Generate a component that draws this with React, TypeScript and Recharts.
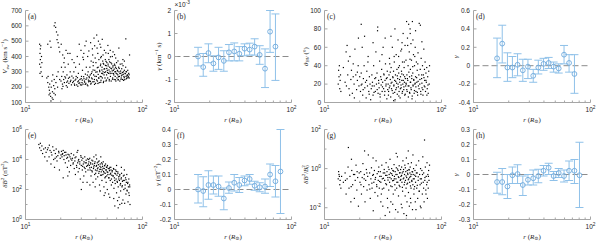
import type { ReactNode } from 'react';
import { ComposedChart, ErrorBar, ReferenceLine, Scatter, XAxis, YAxis } from 'recharts';

const FRAME = '#a6a6a6';
const TXT = '#262626';
const BAR = '#8fc1e9';
const RING = '#6ea9dc';
const ZERO = '#8c8c8c';
const SANS = '"Liberation Sans", Arial, sans-serif';
const SERIF = '"Liberation Serif", "DejaVu Serif", serif';

// radial distance bins (R_sun) used by the binned gamma panels
const rBins = [15.9, 17.6, 19.5, 21.5, 23.8, 26.4, 29.2, 32.4, 35.8, 39.7, 43.9, 48.4, 53.5, 59.4, 65.6, 72.9, 80.5];

// (b) gamma of V_sw, units of 1e-3 km^-1 s
const gammaV = [0.0, -0.46, 0.15, -0.3, -0.04, -0.19, 0.18, 0.22, 0.12, 0.34, 0.3, 0.43, 0.07, -0.53, 1.08, 0.43];
const gammaVLo = [-0.41, -0.86, -0.27, -0.64, -0.56, -0.64, -0.19, -0.19, -0.19, 0.03, 0.06, 0.06, -0.34, -1.35, 0.18, -1.04];
const gammaVHi = [0.4, 0.13, 0.55, 0.03, 0.4, 0.25, 0.52, 0.59, 0.43, 0.55, 0.58, 0.77, 0.47, 0.33, 2.0, 1.85];

// (d) gamma of theta_BV
const gammaTh = [0.08, 0.24, -0.02, -0.02, 0.01, -0.05, -0.01, -0.11, -0.02, 0.02, 0.03, -0.01, -0.03, 0.12, 0.03, -0.09];
const gammaThLo = [-0.13, 0.03, -0.17, -0.13, -0.11, -0.17, -0.14, -0.18, -0.09, -0.05, -0.03, -0.07, -0.08, 0.02, -0.07, -0.3];
const gammaThHi = [0.3, 0.44, 0.14, 0.1, 0.13, 0.07, 0.07, -0.04, 0.06, 0.08, 0.09, 0.04, 0.02, 0.22, 0.12, 0.12];

// (f) gamma of dB^2, nT^-2
const gammaB = [0.0, -0.01, 0.03, 0.03, 0.02, -0.06, 0.01, 0.045, 0.03, 0.06, 0.07, 0.025, 0.015, 0.02, 0.1, 0.055, 0.12];
const gammaBLo = [-0.09, -0.115, -0.065, -0.03, -0.045, -0.135, -0.025, -0.01, -0.02, 0.025, 0.035, -0.005, -0.015, -0.025, 0.02, -0.05, -0.16];
const gammaBHi = [0.1, 0.085, 0.125, 0.09, 0.09, 0.01, 0.05, 0.1, 0.08, 0.09, 0.1, 0.055, 0.045, 0.07, 0.17, 0.16, 0.4];

// (h) gamma of dB^2/B0^2
const gammaN = [-0.05, -0.05, -0.08, -0.005, 0.003, -0.07, -0.035, -0.025, -0.01, 0.025, 0.045, -0.01, 0.01, -0.01, 0.025, 0.025, -0.005];
const gammaNLo = [-0.125, -0.135, -0.16, -0.06, -0.06, -0.14, -0.07, -0.07, -0.055, -0.01, 0.0, -0.04, -0.02, -0.05, -0.04, -0.06, -0.22];
const gammaNHi = [0.015, 0.04, 0.0, 0.05, 0.065, -0.01, 0.0, 0.03, 0.035, 0.06, 0.075, 0.02, 0.04, 0.03, 0.09, 0.1, 0.215];

// (a) V_sw (km/s) vs r
const vswPts = [
  [13.2, 480], [13.3, 420], [13.4, 380], [13.2, 350], [13.5, 330], [13.6, 300], [13.4, 450], [13.7, 400], [13.3, 290], [13.8, 360], [13.5, 470], [13.9, 270],
  [15.2, 260], [15.5, 230], [15.8, 200], [16.0, 180], [16.2, 160], [16.4, 140], [16.6, 200], [16.8, 240], [17.0, 170], [17.2, 120], [16.5, 110], [15.9, 150],
  [17.4, 210], [17.6, 250], [17.8, 190], [16.1, 220], [15.6, 270], [17.1, 280], [16.9, 130], [17.5, 160], [18.0, 150], [18.2, 230], [18.5, 270], [18.8, 200],
  [17.6, 600], [17.9, 620], [18.1, 590], [18.4, 560], [18.6, 510], [19.0, 490], [19.3, 460], [19.6, 430], [18.9, 540], [20.2, 480], [15.5, 480], [16.2, 500],
  [16.5, 460], [20.8, 410], [21.5, 390], [22.2, 440], [23.0, 420],
  [20.1, 240], [20.4, 270], [20.7, 220], [21.0, 300], [21.2, 250], [21.5, 230], [21.8, 330], [22.0, 260], [22.3, 210], [22.6, 280], [22.9, 240], [23.2, 350],
  [23.5, 225], [23.8, 265], [24.1, 300], [24.4, 245], [24.7, 215], [25.0, 380], [20.5, 190], [21.3, 360], [22.8, 200], [24.0, 420],
  [25.3, 230], [25.6, 260], [25.9, 300], [26.2, 220], [26.5, 245], [26.8, 330], [27.1, 270], [27.4, 215], [27.7, 400], [28.0, 235], [28.3, 290], [28.6, 225],
  [28.9, 350], [29.2, 250], [29.5, 215], [29.8, 440], [30.1, 270], [30.4, 230], [30.7, 310], [31.0, 220], [31.3, 380], [31.6, 255], [31.9, 240], [32.2, 470],
  [32.5, 285], [32.8, 225], [33.1, 330], [33.4, 260], [33.7, 215], [34.0, 400], [34.3, 300], [34.6, 235], [34.9, 270], [26.0, 360], [28.8, 480], [31.5, 420], [33.0, 500],
  [35.2, 240], [35.5, 330], [35.8, 280], [36.1, 220], [36.4, 370], [36.7, 260], [37.0, 300], [37.3, 450], [37.6, 235], [37.9, 340], [38.2, 280], [38.5, 520],
  [38.8, 250], [39.1, 310], [39.4, 390], [39.7, 225], [40.0, 360], [40.3, 270], [40.6, 540], [40.9, 300], [41.2, 240], [41.5, 420], [41.8, 330], [42.1, 260],
  [42.4, 380], [42.7, 230], [43.0, 310], [43.3, 480], [43.6, 270], [43.9, 350], [44.2, 245], [44.5, 400], [44.8, 290], [45.1, 330], [45.4, 260], [45.7, 370],
  [46.0, 300], [46.3, 230], [46.6, 350], [46.9, 280], [47.2, 440], [47.5, 320], [47.8, 260], [48.1, 380], [48.4, 300], [48.7, 240], [49.0, 340], [49.3, 280],
  [49.6, 360], [36.0, 490], [39.0, 470], [42.0, 500], [44.0, 460], [37.5, 410], [46.0, 410],
  [50.0, 310], [50.4, 260], [50.8, 350], [51.2, 290], [51.6, 380], [52.0, 250], [52.4, 330], [52.8, 300], [53.2, 270], [53.6, 360], [54.0, 240], [54.4, 320],
  [54.8, 290], [55.2, 400], [55.6, 260], [56.0, 340], [56.4, 310], [56.8, 280], [57.2, 250], [57.6, 350], [58.0, 300], [58.4, 270], [58.8, 330], [59.2, 240],
  [59.6, 290], [60.0, 360], [60.5, 260], [61.0, 310], [61.5, 280], [62.0, 250], [62.5, 330], [63.0, 300], [63.5, 270], [64.0, 240], [64.5, 350], [51.0, 420],
  [53.0, 440], [56.0, 430], [59.0, 390],
  [65.2, 290], [65.8, 260], [66.4, 320], [67.0, 280], [67.6, 250], [68.2, 340], [68.8, 300], [69.4, 270], [70.0, 310], [70.6, 250], [71.2, 290], [71.8, 330],
  [72.4, 270], [73.0, 300], [73.6, 260], [74.2, 280], [74.8, 310], [75.5, 270], [76.2, 290], [77.0, 260], [72.0, 515], [77.5, 410], [68.0, 380], [70.0, 370],
];
const vswDense = [
  [25.7, 238], [26.9, 252], [27.8, 262], [28.4, 241], [29.1, 228], [29.9, 256], [30.6, 246], [31.4, 268], [32.0, 233], [32.9, 251], [33.8, 279], [34.5, 246],
  [35.1, 262], [35.9, 238], [36.6, 289], [37.2, 254], [37.8, 312], [38.5, 236], [39.2, 271], [39.9, 298], [40.5, 247], [41.1, 327], [41.8, 283], [42.4, 259],
  [43.1, 301], [43.7, 340], [44.4, 268], [45.0, 312], [45.7, 288], [46.2, 355], [46.9, 318], [47.5, 296], [48.2, 342], [48.8, 368], [49.5, 322], [50.3, 296],
  [50.9, 338], [51.7, 312], [52.3, 365], [52.9, 289], [53.7, 323], [54.5, 352], [55.1, 306], [55.8, 331], [56.5, 289], [57.3, 318], [58.1, 342], [58.9, 301],
  [59.7, 322], [60.6, 286], [61.4, 305], [62.3, 268], [63.2, 322], [64.1, 289], [65.0, 305], [66.1, 274], [67.3, 296], [68.5, 284], [69.8, 262], [71.1, 288],
  [72.5, 302], [73.9, 276], [75.3, 262], [76.8, 281], [26.3, 212], [28.0, 206], [30.2, 214], [32.4, 218], [34.1, 209], [36.4, 226], [38.9, 218], [41.6, 224],
  [44.0, 232], [46.6, 238], [49.2, 246], [52.0, 241], [55.4, 252], [58.5, 249], [61.9, 247], [65.5, 251], [69.0, 244], [72.9, 255], [30.9, 395], [34.8, 436],
  [37.9, 362], [40.9, 455], [43.9, 392], [45.3, 512], [48.6, 424], [50.6, 472], [53.2, 398], [57.7, 412], [61.7, 371], [66.8, 352], [62.8, 455], [20.9, 205],
  [21.7, 268], [22.5, 232], [23.3, 258], [24.2, 236], [24.9, 272], [19.6, 250], [19.0, 300], [20.3, 330],
];

// (c) theta_BV (deg) vs r
const thetaPts = [
  [13.1, 20], [13.3, 28], [13.5, 15], [13.2, 35], [13.6, 24], [13.8, 12], [13.4, 40], [13.7, 30],
  [14.5, 38], [15.0, 22], [15.3, 55], [15.6, 62], [15.8, 30], [16.0, 45], [16.2, 15], [16.5, 50], [16.8, 25], [17.0, 35], [17.3, 10], [17.6, 42],
  [17.9, 20], [18.2, 58], [18.5, 30], [18.8, 14], [19.1, 24], [19.4, 40], [19.7, 18], [20.0, 28], [20.6, 85], [16.4, 8], [18.0, 5], [19.5, 70],
  [20.3, 12], [20.6, 32], [20.9, 20], [21.2, 8], [21.5, 26], [21.8, 40], [22.1, 16], [22.4, 22], [22.7, 5], [23.0, 34], [23.3, 18], [23.6, 50],
  [23.9, 12], [24.2, 28], [24.5, 20], [24.8, 3], [21.0, 60], [23.5, 44], [22.0, 72],
  [25.1, 15], [25.4, 30], [25.7, 22], [26.0, 8], [26.3, 40], [26.6, 18], [26.9, 26], [27.2, 12], [27.5, 55], [27.8, 20], [28.1, 32], [28.4, 78],
  [28.7, 10], [29.0, 24], [29.3, 16], [29.6, 45], [29.9, 6], [30.2, 28], [30.5, 19], [30.8, 36], [31.1, 12], [31.4, 22], [31.7, 60], [32.0, 15],
  [32.3, 30], [32.6, 8], [32.9, 24], [33.2, 42], [33.5, 18], [33.8, 26], [34.1, 4], [34.4, 34], [34.7, 14], [28.5, 82], [26.0, 65], [31.0, 52], [33.0, 70],
  [35.0, 20], [35.3, 12], [35.6, 30], [35.9, 48], [36.2, 18], [36.5, 25], [36.8, 6], [37.1, 38], [37.4, 15], [37.7, 22], [38.0, 60], [38.3, 28],
  [38.6, 10], [38.9, 34], [39.2, 19], [39.5, 44], [39.8, 24], [40.1, 3], [40.4, 30], [40.7, 14], [41.0, 52], [41.3, 21], [41.6, 36], [41.9, 9],
  [42.2, 26], [42.5, 68], [42.8, 17], [43.1, 32], [43.4, 12], [43.7, 40], [44.0, 22], [44.3, 5], [44.6, 28], [44.9, 56], [45.2, 16], [45.5, 34],
  [45.8, 24], [46.1, 10], [46.4, 44], [46.7, 20], [47.0, 75], [47.3, 30], [47.6, 14], [47.9, 38], [48.2, 22], [48.5, 8], [48.8, 62], [49.1, 26],
  [49.4, 18], [49.7, 46], [37.0, 72], [40.0, 80], [43.0, 50], [46.0, 65], [39.0, 2],
  [50.0, 20], [50.3, 88], [50.6, 30], [50.9, 12], [51.2, 70], [51.5, 24], [51.8, 40], [52.1, 6], [52.4, 85], [52.7, 18], [53.0, 55], [53.3, 28],
  [53.6, 10], [53.9, 80], [54.2, 36], [54.5, 22], [54.8, 64], [55.1, 14], [55.4, 46], [55.7, 26], [56.0, 4], [56.4, 88], [56.8, 32], [57.2, 18],
  [57.6, 52], [58.0, 24], [58.4, 10], [58.8, 40], [59.2, 20], [59.6, 60], [60.0, 28], [60.5, 12], [61.0, 44], [61.5, 22], [62.0, 35], [62.5, 8],
  [63.0, 54], [63.5, 18], [64.0, 30], [64.5, 86], [54.0, 75], [57.0, 68], [60.0, 78],
  [65.2, 20], [65.8, 36], [66.4, 12], [67.0, 48], [67.6, 26], [68.2, 16], [68.8, 40], [69.4, 8], [70.0, 30], [70.6, 58], [71.2, 18], [71.8, 24],
  [72.4, 44], [73.0, 12], [73.6, 32], [74.2, 22], [74.8, 38], [75.5, 15], [76.2, 28], [77.0, 10], [77.8, 34], [78.5, 20], [79.0, 40], [66.0, 84], [68.0, 66],
];
const thetaDense = [
  [25.6, 18], [26.5, 11], [27.4, 27], [28.2, 14], [29.1, 21], [29.8, 9], [30.6, 25], [31.3, 17], [32.1, 31], [32.8, 12], [33.6, 20], [34.3, 27],
  [35.2, 8], [35.8, 16], [36.5, 33], [37.1, 21], [37.9, 13], [38.5, 27], [39.1, 18], [39.8, 11], [40.6, 23], [41.2, 16], [41.9, 29], [42.5, 20],
  [43.2, 7], [43.8, 25], [44.5, 15], [45.1, 19], [45.8, 31], [46.4, 12], [47.1, 24], [47.7, 17], [48.4, 28], [49.0, 9], [49.7, 21], [50.5, 14],
  [51.1, 26], [51.9, 18], [52.6, 33], [53.3, 11], [54.1, 22], [54.8, 16], [55.6, 29], [56.2, 7], [57.1, 19], [57.9, 25], [58.7, 13], [59.6, 21],
  [60.4, 17], [61.3, 27], [62.2, 11], [63.1, 23], [64.3, 15], [65.4, 25], [66.7, 9], [68.0, 21], [69.3, 14], [70.8, 27], [72.1, 17], [73.6, 24],
  [75.0, 8], [76.6, 19], [36.1, 42], [39.4, 50], [42.9, 38], [45.6, 58], [48.1, 44], [51.4, 62], [53.8, 47], [56.8, 39], [59.1, 50], [62.7, 42],
  [67.7, 30], [71.5, 36], [21.4, 14], [22.9, 24], [24.1, 9], [20.6, 19], [19.1, 33], [17.6, 28], [15.4, 18],
];

// (e) dB^2 (nT^2) vs r
const dbPts = [
  [13.0, 1e5], [13.2, 6e4], [13.4, 1.2e5], [13.6, 4e4], [13.8, 8e4], [14.0, 2.5e4], [14.3, 5e4], [14.6, 1.5e4],
  [15.0, 3e4], [15.3, 8e3], [15.6, 6e4], [15.9, 1.5e4], [16.2, 4e4], [16.5, 5e3], [16.8, 2e4], [17.1, 7e4], [17.4, 1e4], [17.7, 3e3], [18.0, 2.5e4],
  [18.3, 5e4], [18.6, 8e3], [18.9, 1.8e4], [19.2, 3.5e4], [19.5, 2e3], [19.8, 1.2e4], [16.0, 9e4], [17.5, 4e4],
  [20.1, 2e4], [20.3, 3.5e4], [20.5, 1.5e4], [20.8, 2.5e4], [21.0, 4e4], [21.3, 1e4], [21.6, 3e4], [21.9, 6e3], [22.2, 2e4], [22.5, 1.2e4], [22.8, 3e3],
  [23.1, 2.2e4], [23.4, 8e3], [23.7, 1.5e3], [24.0, 1.5e4], [24.3, 4e3], [24.6, 2.5e4], [24.9, 9e3], [21.0, 600], [23.0, 800],
  [25.2, 1.2e4], [25.5, 5e3], [25.8, 2e4], [26.1, 2.5e3], [26.4, 8e3], [26.7, 1e3], [27.0, 1.5e4], [27.3, 4e3], [27.6, 3e4], [27.9, 6e3], [28.2, 1.5e3],
  [28.5, 1e4], [28.8, 2.5e3], [29.1, 7e3], [29.4, 500], [29.7, 1.8e4], [30.0, 4e3], [30.3, 9e3], [30.6, 2e3], [30.9, 1.2e4], [31.2, 5e3], [31.5, 800],
  [31.8, 3e3], [32.1, 1.5e4], [32.4, 6e3], [32.7, 1.5e3], [33.0, 9e3], [33.3, 3.5e3], [33.6, 300], [33.9, 1.1e4], [34.2, 2e3], [34.5, 5e3], [34.8, 7e3],
  [30.0, 100], [28.0, 4e4],
  [35.1, 4e3], [35.4, 1.2e4], [35.7, 2e3], [36.0, 6e3], [36.3, 800], [36.6, 3e3], [36.9, 9e3], [37.2, 1.5e3], [37.5, 5e3], [37.8, 300], [38.1, 2.5e3],
  [38.4, 1.5e4], [38.7, 4e3], [39.0, 1e3], [39.3, 7e3], [39.6, 2e3], [39.9, 500], [40.2, 3.5e3], [40.5, 1.1e4], [40.8, 1.8e3], [41.1, 6e3], [41.4, 700],
  [41.7, 2.8e3], [42.0, 4.5e3], [42.3, 1.2e3], [42.6, 8e3], [42.9, 200], [43.2, 2.2e3], [43.5, 5e3], [43.8, 900], [44.1, 3e3], [44.4, 1.5e3], [44.7, 6e3],
  [45.0, 400], [45.3, 2e3], [45.6, 3.5e3], [45.9, 1e3], [46.2, 7e3], [46.5, 1.6e3], [46.8, 150], [47.1, 2.5e3], [47.4, 4e3], [47.7, 600], [48.0, 1.2e3],
  [48.3, 5e3], [48.6, 2e3], [48.9, 300], [49.2, 3e3], [49.5, 800], [49.8, 1.5e3], [50.2, 4e3], [50.6, 1e3], [51.0, 2.5e3], [51.4, 50], [51.8, 600],
  [52.2, 1.8e3], [52.6, 3e3], [53.0, 400], [53.4, 1.2e3], [53.8, 2e3], [54.2, 200], [54.6, 900], [40.0, 2e4], [44.0, 1.5e4], [50.0, 100], [47.0, 40],
  [55.0, 1.5e3], [55.5, 300], [56.0, 800], [56.5, 2.5e3], [57.0, 120], [57.5, 600], [58.0, 1.2e3], [58.5, 250], [59.0, 2e3], [59.5, 500], [60.0, 60],
  [60.5, 900], [61.0, 300], [61.5, 1.5e3], [62.0, 150], [62.5, 700], [63.0, 30], [63.5, 400], [64.0, 1e3], [64.5, 200], [65.0, 80], [65.6, 500],
  [66.2, 1.2e3], [66.8, 150], [67.4, 350], [68.0, 20], [68.6, 800], [69.2, 100], [69.8, 400], [70.4, 12], [71.0, 200], [71.6, 600], [72.2, 50],
  [72.8, 300], [73.4, 1e3], [74.0, 80], [74.6, 250], [75.2, 15], [75.8, 150], [76.4, 500], [77.0, 40], [77.6, 200], [78.2, 10], [60.0, 4e3],
  [66.0, 3e3], [70.0, 2e3], [58.0, 8], [64.0, 10],
];
const dbDense = [
  [25.6, 6e3], [26.5, 1.3e4], [27.4, 3e3], [28.3, 8e3], [29.1, 5e3], [29.9, 1.4e4], [30.8, 3.5e3], [31.6, 7e3], [32.3, 2.5e3], [33.1, 6e3], [33.9, 4e3],
  [34.7, 1e4], [35.4, 2.8e3], [36.1, 5e3], [36.9, 1.8e3], [37.6, 8e3], [38.3, 3.2e3], [39.0, 5.5e3], [39.8, 1.2e3], [40.5, 4e3], [41.2, 2.4e3], [41.9, 7e3],
  [42.6, 1.6e3], [43.3, 3.5e3], [44.0, 2.2e3], [44.7, 900], [45.4, 5e3], [46.1, 2.6e3], [46.9, 1.3e3], [47.5, 3.8e3], [48.3, 700], [49.0, 2e3], [49.8, 3.2e3],
  [50.5, 1.4e3], [51.3, 600], [52.1, 2.4e3], [52.8, 1e3], [53.6, 3e3], [54.3, 500], [55.2, 1.8e3], [56.1, 800], [57.0, 2.2e3], [57.9, 400], [58.8, 1.1e3],
  [59.7, 1.6e3], [60.7, 350], [61.6, 1.2e3], [62.7, 500], [63.8, 800], [64.9, 250], [66.0, 600], [67.2, 180], [68.4, 400], [69.7, 900], [71.0, 120],
  [72.3, 450], [73.7, 90], [75.0, 300], [76.4, 60], [77.8, 150], [18.4, 1.5e4], [19.3, 2.8e4], [20.6, 2.2e4], [21.4, 1.8e4], [22.1, 3e4], [22.9, 1.4e4],
  [23.6, 2e4], [24.4, 1.1e4], [14.8, 6e4], [15.4, 4.5e4], [16.6, 3e4], [17.9, 1.2e4], [31.0, 300], [35.5, 200], [39.4, 150], [43.6, 80], [48.0, 60],
  [52.5, 30], [56.8, 25], [61.2, 18], [66.5, 12], [62.0, 6],
];

// (g) dB^2/B0^2 vs r
const normPts = [
  [13.1, 0.3], [13.3, 0.5], [13.5, 0.15], [13.2, 0.7], [13.6, 0.25], [13.8, 0.1], [13.4, 0.4],
  [14.5, 0.2], [15.0, 0.6], [15.3, 0.05], [15.6, 0.3], [15.9, 1.2], [16.0, 12], [16.2, 0.1], [16.5, 0.4], [16.8, 0.02], [17.1, 0.8], [17.4, 0.15],
  [17.7, 0.5], [18.0, 0.03], [18.3, 0.25], [18.6, 1.5], [18.9, 0.08], [19.2, 0.35], [19.5, 0.012], [19.8, 0.6], [17.0, 3],
  [20.1, 0.2], [20.4, 0.7], [20.7, 0.05], [21.0, 0.35], [21.3, 1.8], [21.6, 0.12], [21.9, 0.5], [22.2, 0.02], [22.5, 0.25], [22.8, 0.9], [23.1, 0.08],
  [23.4, 0.4], [23.7, 5], [24.0, 0.15], [24.3, 0.6], [24.6, 0.03], [24.9, 0.3], [25.2, 1.1], [25.5, 0.1], [25.8, 0.45], [26.1, 0.007], [26.4, 0.2],
  [26.7, 0.8], [27.0, 0.06], [27.3, 0.35], [27.6, 2.5], [27.9, 0.15], [28.2, 0.55], [28.5, 0.04], [28.8, 0.25], [29.1, 1.2], [29.4, 0.1], [29.7, 0.4],
  [22.0, 8], [26.0, 3.5],
  [30.0, 0.7], [30.3, 0.2], [30.6, 0.05], [30.9, 1.5], [31.2, 0.3], [31.5, 0.012], [31.8, 0.6], [32.1, 0.1], [32.4, 0.9], [32.7, 0.25], [33.0, 0.004],
  [33.3, 0.45], [33.6, 2], [33.9, 0.15], [34.2, 0.7], [34.5, 0.03], [34.8, 0.35], [35.1, 1.2], [35.4, 0.08], [35.7, 0.5], [36.0, 0.2], [36.3, 3],
  [36.6, 0.6], [36.9, 0.02], [37.2, 0.3], [37.5, 1], [37.8, 0.12], [38.1, 0.45], [38.4, 0.8], [38.7, 0.05], [39.0, 0.25], [39.3, 1.6], [39.6, 0.4],
  [39.9, 0.15], [40.2, 0.7], [40.5, 0.008], [40.8, 0.3], [41.1, 1.1], [41.4, 0.1], [41.7, 0.5], [42.0, 4], [42.3, 0.2], [42.6, 0.8], [42.9, 0.04],
  [43.2, 0.35], [43.5, 1.4], [43.8, 0.6], [44.1, 0.12], [44.4, 0.25], [44.7, 0.9], [36.0, 0.006], [41.0, 6],
  [45.0, 0.4], [45.3, 0.015], [45.6, 1.2], [45.9, 0.2], [46.2, 0.6], [46.5, 0.07], [46.8, 2.5], [47.1, 0.3], [47.4, 0.9], [47.7, 0.005], [48.0, 0.15],
  [48.3, 0.5], [48.6, 1.5], [48.9, 0.04], [49.2, 0.25], [49.5, 0.7], [49.8, 0.1], [50.1, 3.5], [50.4, 0.35], [50.7, 0.02], [51.0, 0.8], [51.3, 0.18],
  [51.6, 0.5], [51.9, 1.8], [52.2, 0.06], [52.5, 0.3], [52.8, 0.9], [53.1, 0.012], [53.4, 0.2], [53.7, 0.6], [54.0, 1.2], [54.3, 0.03], [54.6, 0.4],
  [54.9, 0.1], [55.3, 2], [55.7, 0.25], [56.1, 0.7], [56.5, 0.008], [56.9, 0.15], [57.3, 0.5], [57.7, 1], [58.1, 0.05], [58.5, 0.3], [58.9, 0.12],
  [59.3, 0.8], [59.7, 0.02], [52.0, 8], [57.0, 5],
  [60.2, 0.4], [60.8, 1.5], [61.4, 0.1], [62.0, 0.6], [62.6, 0.03], [63.2, 0.25], [63.8, 2.5], [64.4, 0.07], [65.0, 0.5], [65.6, 0.15], [66.2, 1],
  [66.8, 0.01], [67.4, 0.3], [68.0, 0.8], [68.6, 0.05], [69.2, 4], [69.8, 0.2], [70.4, 0.6], [71.0, 0.02], [71.6, 29], [72.2, 0.35], [72.8, 1.2],
  [73.4, 0.08], [74.0, 0.4], [74.6, 0.15], [75.2, 2], [75.8, 0.03], [76.4, 0.5], [77.0, 0.1], [77.6, 0.8], [78.2, 0.25], [79.0, 1.5],
];
const normDense = [
  [25.4, 0.18], [26.2, 0.5], [27.1, 0.28], [28.0, 0.12], [28.9, 0.7], [29.6, 0.22], [30.5, 0.4], [31.2, 0.09], [31.9, 0.32], [32.7, 0.6], [33.4, 0.17],
  [34.1, 0.45], [34.9, 0.26], [35.6, 0.9], [36.2, 0.35], [36.8, 0.13], [37.5, 0.55], [38.2, 0.24], [38.9, 0.75], [39.5, 0.3], [40.1, 0.08], [40.8, 0.5],
  [41.5, 0.2], [42.1, 0.95], [42.8, 0.38], [43.5, 0.14], [44.2, 0.62], [44.9, 0.28], [45.6, 0.45], [46.3, 0.11], [47.0, 0.7], [47.6, 0.33], [48.4, 0.2],
  [49.1, 1.1], [49.8, 0.42], [50.6, 0.16], [51.3, 0.58], [52.0, 0.27], [52.8, 0.85], [53.5, 0.36], [54.3, 0.13], [55.0, 0.5], [55.8, 0.22], [56.6, 0.68],
  [57.4, 0.3], [58.2, 0.09], [59.1, 0.46], [60.0, 0.2], [61.0, 0.6], [62.1, 0.14], [63.3, 0.38], [64.6, 0.07], [65.9, 0.3], [67.3, 0.18], [68.8, 0.5],
  [70.3, 0.1], [72.0, 0.25], [73.7, 0.05], [75.5, 0.2], [77.3, 0.4], [30.3, 0.02], [34.7, 0.01], [38.3, 0.015], [42.4, 0.006], [46.0, 0.01],
  [50.2, 0.004], [54.7, 0.018], [60.5, 0.008], [66.0, 0.012], [14.0, 0.4], [15.1, 0.25], [16.9, 0.12], [18.1, 0.5], [19.0, 0.7], [20.5, 0.15],
  [21.8, 0.3], [23.0, 0.6], [24.4, 0.09],
];

const xTicks = [10, 20, 30, 40, 50, 60, 70, 80, 90, 100];
const xMajor = [10, 100];

const toXY = (...sets: number[][][]) => sets.flat().map(([x, y]) => ({ x, y }));
const binned = (g: number[], lo: number[], hi: number[]) =>
  g.map((y, i) => ({ x: rBins[i], y, err: [y - lo[i], hi[i] - y] }));

// layout
const W = 150;
const H = 124;
const PW = 117;
const MT = 10.5;
const COLS = [
  { left: 0, yw: 25.5 },
  { left: 148, yw: 26.5 },
  { left: 298, yw: 26.5 },
  { left: 447, yw: 26.5 },
];
const ROWS = [
  { top: 0, ph: 92 },
  { top: 119, ph: 90 },
];

const pow10 = (e: number) => (
  <>
    10<tspan dy={-3} fontSize={4.8}>{e}</tspan>
  </>
);
const logFmt = (v: number) => pow10(Math.round(Math.log10(v)));
const linFmt = (v: number) => String(v);

const bottomTick = (props: any) => {
  const { x, y, payload } = props;
  const major = xMajor.includes(payload.value);
  return (
    <g>
      <line x1={x} x2={x} y1={y} y2={y - (major ? 3 : 2)} stroke={FRAME} />
      {major && (
        <text x={x} y={y + 9} textAnchor="middle" fontSize={6.5} fontFamily={SANS} fill={TXT}>
          {pow10(Math.round(Math.log10(payload.value)))}
        </text>
      )}
    </g>
  );
};

const topTick = (props: any) => {
  const { x, y, payload } = props;
  const major = xMajor.includes(payload.value);
  return <line x1={x} x2={x} y1={y} y2={y + (major ? 3 : 2)} stroke={FRAME} />;
};

const leftTick = (major: number[], fmt: (v: number) => ReactNode) => (props: any) => {
  const { x, y, payload } = props;
  const isMajor = major.includes(payload.value);
  return (
    <g>
      <line x1={x} x2={x + (isMajor ? 3 : 2)} y1={y} y2={y} stroke={FRAME} />
      {isMajor && (
        <text x={x - 3.5} y={y + 2.3} textAnchor="end" fontSize={6.5} fontFamily={SANS} fill={TXT}>
          {fmt(payload.value)}
        </text>
      )}
    </g>
  );
};

const rightTick = (major: number[]) => (props: any) => {
  const { x, y, payload } = props;
  return <line x1={x} x2={x - (major.includes(payload.value) ? 3 : 2)} y1={y} y2={y} stroke={FRAME} />;
};

const dot = (p: any) => <rect x={p.cx - 0.6} y={p.cy - 0.6} width={1.2} height={1.2} fill="#000" />;
const ring = (p: any) => <circle cx={p.cx} cy={p.cy} r={2.4} fill="none" stroke={RING} strokeWidth={0.9} />;

type PanelProps = {
  col: number;
  row: number;
  tag: string;
  yTitle: ReactNode;
  yTitleOff: number;
  yDomain: [number, number];
  yTicks: number[];
  yMajor: number[];
  yLog?: boolean;
  yFmt: (v: number) => ReactNode;
  header?: ReactNode;
  children: ReactNode;
};

function Panel(p: PanelProps) {
  const { left, yw } = COLS[p.col];
  const { top, ph } = ROWS[p.row];
  const xh = H - MT - ph;
  const yScale = p.yLog ? 'log' : 'linear';
  const titles = () => (
    <g>
      <text
        transform={`translate(${yw - p.yTitleOff + 2.5},${MT + ph / 2}) rotate(-90)`}
        textAnchor="middle"
        fontSize={7}
        fontFamily={SERIF}
        fill={TXT}
      >
        {p.yTitle}
      </text>
      <text x={yw + 2.5} y={MT + 8} fontSize={7.5} fontFamily={SERIF} fill={TXT}>
        {p.tag}
      </text>
      {p.header}
    </g>
  );
  const xTitle = () => (
    <text x={yw + PW / 2} y={MT + ph + 19} textAnchor="middle" fontSize={7} fontFamily={SERIF} fill={TXT}>
      <tspan fontStyle="italic">r</tspan> (<tspan fontStyle="italic">R</tspan>
      <tspan dy={1.5} fontSize={5}>⊙</tspan>
      <tspan dy={-1.5}>)</tspan>
    </text>
  );
  return (
    <div style={{ position: 'absolute', left, top, width: W, height: H }}>
      <ComposedChart width={W} height={H} margin={{ top: MT, right: W - yw - PW, bottom: 0, left: 0 }}>
        <XAxis
          dataKey="x"
          type="number"
          scale="log"
          domain={[10, 100]}
          allowDataOverflow
          ticks={xTicks}
          interval={0}
          height={xh}
          tickSize={0}
          tickMargin={0}
          tickLine={false}
          axisLine={{ stroke: FRAME }}
          tick={bottomTick}
          label={xTitle}
        />
        <XAxis
          xAxisId="top"
          orientation="top"
          dataKey="x"
          type="number"
          scale="log"
          domain={[10, 100]}
          allowDataOverflow
          ticks={xTicks}
          interval={0}
          height={0}
          tickSize={0}
          tickMargin={0}
          tickLine={false}
          axisLine={{ stroke: FRAME }}
          tick={topTick}
        />
        <YAxis
          dataKey="y"
          type="number"
          scale={yScale}
          domain={p.yDomain}
          allowDataOverflow
          ticks={p.yTicks}
          interval={0}
          width={yw}
          tickSize={0}
          tickMargin={0}
          tickLine={false}
          axisLine={{ stroke: FRAME }}
          tick={leftTick(p.yMajor, p.yFmt)}
          label={titles}
        />
        <YAxis
          yAxisId="right"
          orientation="right"
          dataKey="y"
          type="number"
          scale={yScale}
          domain={p.yDomain}
          allowDataOverflow
          ticks={p.yTicks}
          interval={0}
          width={0}
          tickSize={0}
          tickMargin={0}
          tickLine={false}
          axisLine={{ stroke: FRAME }}
          tick={rightTick(p.yMajor)}
        />
        {p.children}
      </ComposedChart>
    </div>
  );
}

const gammaSeries = (data: { x: number; y: number; err: number[] }[]) => [
  <ReferenceLine key="zero" y={0} stroke={ZERO} strokeDasharray="6 3" />,
  <Scatter key="g" data={data} shape={ring} isAnimationActive={false}>
    <ErrorBar dataKey="err" direction="y" width={4} stroke={BAR} strokeWidth={1} isAnimationActive={false} />
  </Scatter>,
];

const gammaTitle = <tspan fontStyle="italic">γ</tspan>;

export default function App() {
  return (
    <div style={{ position: 'absolute', left: 0, top: 0, width: 598, height: 243, background: '#fff' }}>
      <Panel
        col={0}
        row={0}
        tag="(a)"
        yTitleOff={21}
        yDomain={[100, 700]}
        yTicks={[100, 200, 300, 400, 500, 600, 700]}
        yMajor={[100, 200, 300, 400, 500, 600, 700]}
        yFmt={linFmt}
        yTitle={
          <>
            <tspan fontStyle="italic">V</tspan>
            <tspan dy={1.5} fontSize={5} fontStyle="italic">sw</tspan>
            <tspan dy={-1.5}> (km s</tspan>
            <tspan dy={-3} fontSize={5}>−1</tspan>
            <tspan dy={3}>)</tspan>
          </>
        }
      >
        <Scatter data={toXY(vswPts, vswDense)} shape={dot} isAnimationActive={false} />
      </Panel>

      <Panel
        col={1}
        row={0}
        tag="(b)"
        yTitleOff={16.5}
        yDomain={[-2, 2]}
        yTicks={[-2, -1, 0, 1, 2]}
        yMajor={[-2, -1, 0, 1, 2]}
        yFmt={linFmt}
        yTitle={
          <>
            <tspan fontStyle="italic">γ</tspan> (km<tspan dy={-3} fontSize={5}>−1</tspan>
            <tspan dy={3}> s)</tspan>
          </>
        }
        header={
          <text x={26.5} y={7} fontSize={6.5} fontFamily={SANS} fill={TXT}>
            ×10<tspan dy={-3} fontSize={4.8}>-3</tspan>
          </text>
        }
      >
        {gammaSeries(binned(gammaV, gammaVLo, gammaVHi))}
      </Panel>

      <Panel
        col={2}
        row={0}
        tag="(c)"
        yTitleOff={19.5}
        yDomain={[0, 100]}
        yTicks={[0, 20, 40, 60, 80, 100]}
        yMajor={[0, 20, 40, 60, 80, 100]}
        yFmt={linFmt}
        yTitle={
          <>
            <tspan fontStyle="italic">θ</tspan>
            <tspan dy={1.5} fontSize={5} fontStyle="italic">BV</tspan>
            <tspan dy={-1.5}> (°)</tspan>
          </>
        }
      >
        <Scatter data={toXY(thetaPts, thetaDense)} shape={dot} isAnimationActive={false} />
      </Panel>

      <Panel
        col={3}
        row={0}
        tag="(d)"
        yTitleOff={18}
        yDomain={[-0.4, 0.6]}
        yTicks={[-0.4, -0.2, 0, 0.2, 0.4, 0.6]}
        yMajor={[-0.4, -0.2, 0, 0.2, 0.4, 0.6]}
        yFmt={linFmt}
        yTitle={gammaTitle}
      >
        {gammaSeries(binned(gammaTh, gammaThLo, gammaThHi))}
      </Panel>

      <Panel
        col={0}
        row={1}
        tag="(e)"
        yTitleOff={21}
        yLog
        yDomain={[1, 1e6]}
        yTicks={[1, 10, 100, 1e3, 1e4, 1e5, 1e6]}
        yMajor={[1, 100, 1e4, 1e6]}
        yFmt={logFmt}
        yTitle={
          <>
            <tspan fontStyle="italic">δB</tspan>
            <tspan dy={-3} fontSize={5}>2</tspan>
            <tspan dy={3}> (nT</tspan>
            <tspan dy={-3} fontSize={5}>2</tspan>
            <tspan dy={3}>)</tspan>
          </>
        }
      >
        <Scatter data={toXY(dbPts, dbDense)} shape={dot} isAnimationActive={false} />
      </Panel>

      <Panel
        col={1}
        row={1}
        tag="(f)"
        yTitleOff={17}
        yDomain={[-0.2, 0.4]}
        yTicks={[-0.2, -0.1, 0, 0.1, 0.2, 0.3, 0.4]}
        yMajor={[-0.2, -0.1, 0, 0.1, 0.2, 0.3, 0.4]}
        yFmt={linFmt}
        yTitle={
          <>
            <tspan fontStyle="italic">γ</tspan> (nT<tspan dy={-3} fontSize={5}>−2</tspan>
            <tspan dy={3}>)</tspan>
          </>
        }
      >
        {gammaSeries(binned(gammaB, gammaBLo, gammaBHi))}
      </Panel>

      <Panel
        col={2}
        row={1}
        tag="(g)"
        yTitleOff={19.5}
        yLog
        yDomain={[0.0025, 100]}
        yTicks={[0.01, 0.1, 1, 10, 100]}
        yMajor={[0.01, 1, 100]}
        yFmt={logFmt}
        yTitle={
          <>
            <tspan fontStyle="italic">δB</tspan>
            <tspan dy={-3} fontSize={5}>2</tspan>
            <tspan dy={3}>/</tspan>
            <tspan fontStyle="italic">B</tspan>
            <tspan dy={1.5} fontSize={5}>0</tspan>
            <tspan dy={-4.5} dx={-2.6} fontSize={5}>2</tspan>
          </>
        }
      >
        <Scatter data={toXY(normPts, normDense)} shape={dot} isAnimationActive={false} />
      </Panel>

      <Panel
        col={3}
        row={1}
        tag="(h)"
        yTitleOff={18.5}
        yDomain={[-0.3, 0.3]}
        yTicks={[-0.3, -0.2, -0.1, 0, 0.1, 0.2, 0.3]}
        yMajor={[-0.3, -0.2, -0.1, 0, 0.1, 0.2, 0.3]}
        yFmt={linFmt}
        yTitle={gammaTitle}
      >
        {gammaSeries(binned(gammaN, gammaNLo, gammaNHi))}
      </Panel>
    </div>
  );
}
